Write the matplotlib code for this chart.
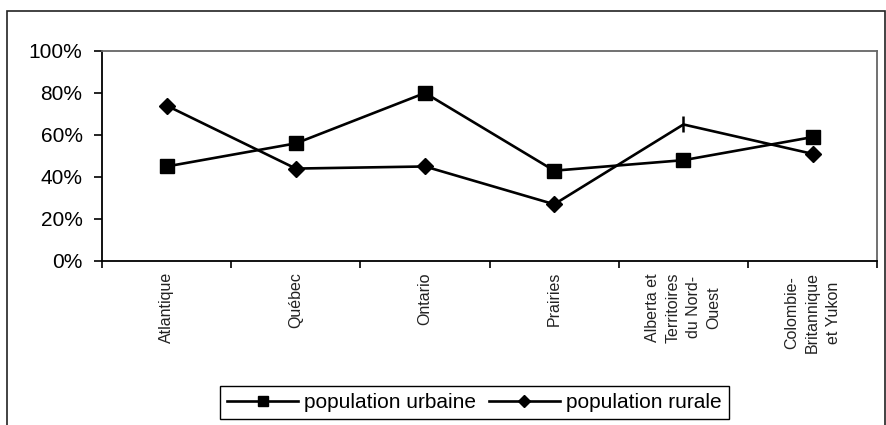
import matplotlib.pyplot as plt
from matplotlib.patches import Rectangle
from matplotlib.ticker import PercentFormatter, FixedLocator

plt.rcParams['font.family'] = ['Liberation Sans', 'DejaVu Sans']

regions = ['Atlantique', 'Québec', 'Ontario', 'Prairies',
           'Alberta et\nTerritoires\ndu Nord-\nOuest',
           'Colombie-\nBritannique\net Yukon']
urbaine = [45, 56, 80, 43, 48, 59]
rurale = [74, 44, 45, 27, 65, 51]

fig = plt.figure(figsize=(8.87, 4.25), dpi=100)
ax = fig.add_axes([0.115, 0.386, 0.874, 0.494])

x = list(range(len(regions)))
ax.plot(x, urbaine, color='black', lw=1.9, marker='s', ms=10.5,
        label='population urbaine')
# the Alberta point of the rural series shows only a vertical stroke
ax.plot(x, rurale, color='black', lw=1.9, marker='D', ms=8,
        markevery=[0, 1, 2, 3, 5], label='population rurale')
ax.plot(x[4], rurale[4], color='black', marker='|', ms=12, mew=1.8)

ax.set_xlim(-0.5, len(regions) - 0.5)
ax.set_ylim(0, 100)
ax.set_yticks([0, 20, 40, 60, 80, 100])
ax.yaxis.set_major_formatter(PercentFormatter(decimals=0))
ax.set_xticks(x)
ax.set_xticklabels(regions, rotation=90, fontsize=11.5, linespacing=1.45,
                   multialignment='center', color='#222222')
ax.tick_params(axis='x', length=0, pad=8)
ax.xaxis.set_minor_locator(FixedLocator([i + 0.5 for i in range(-1, len(regions))]))
ax.tick_params(axis='x', which='minor', length=5, width=1.2, direction='out')
ax.tick_params(axis='y', labelsize=15, length=6, width=1.2, pad=8, direction='out')

for s in ['left', 'bottom']:
    ax.spines[s].set_linewidth(1.3)
    ax.spines[s].set_color('black')
for s in ['top', 'right']:
    ax.spines[s].set_linewidth(1.3)
    ax.spines[s].set_color('#666666')

leg = fig.legend(*ax.get_legend_handles_labels(), loc='center',
                 bbox_to_anchor=(0.535, 0.053), ncol=2, fontsize=15,
                 frameon=True, fancybox=False, edgecolor='black',
                 framealpha=1, handlelength=3.4, handletextpad=0.3,
                 columnspacing=0.6, borderpad=0.35, markerscale=0.75)
leg.get_frame().set_linewidth(1.0)

fig.patches.append(Rectangle((7 / 887, -0.1), 878 / 887, 1.1 - 11 / 425,
                             transform=fig.transFigure, fill=False,
                             edgecolor='#222222', lw=1.2))

fig.savefig('out.png', dpi=100)
